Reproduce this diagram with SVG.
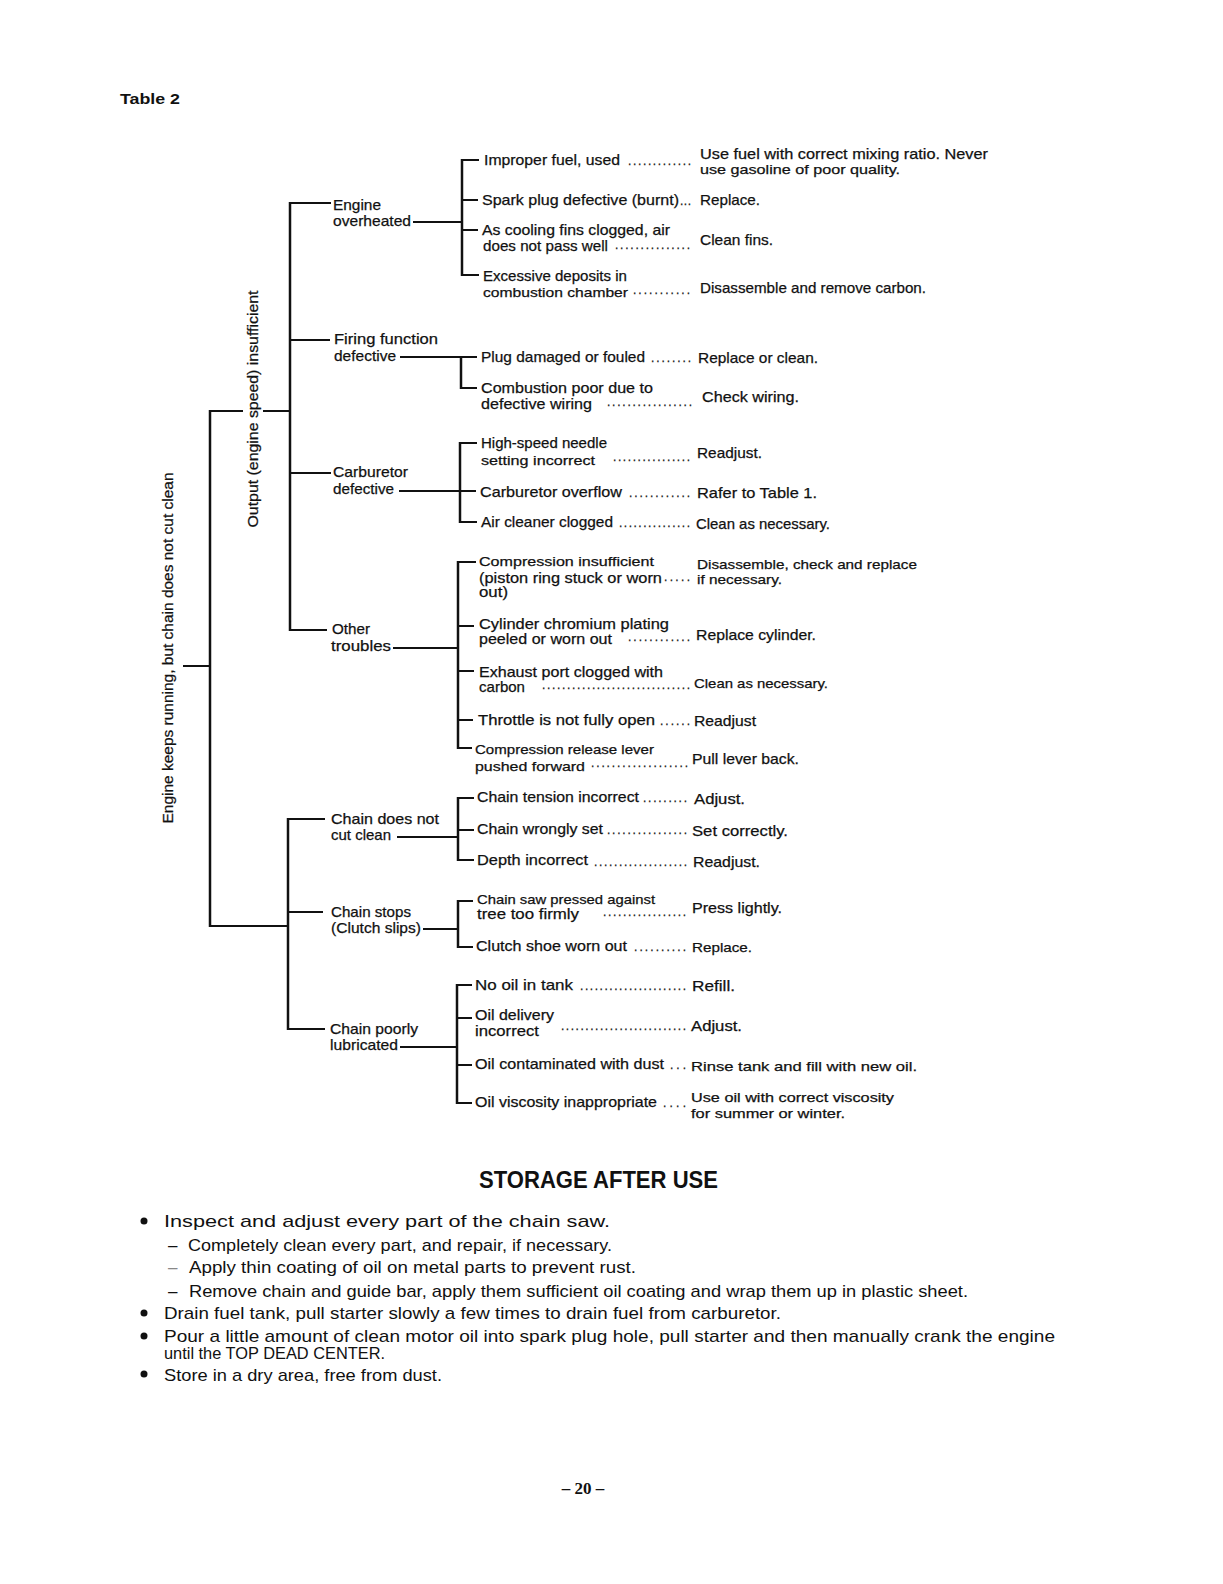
<svg xmlns="http://www.w3.org/2000/svg" width="1223" height="1584" viewBox="0 0 1223 1584">
<style>
text{font-family:"Liberation Sans",Arial,sans-serif;fill:#111;font-size:15px}
.g text{stroke:#111;stroke-width:0.25}
.sm{font-size:13.5px}
.d{font-size:12px;letter-spacing:0}
.b{font-weight:bold}
.h{font-size:23px;font-weight:bold}
.s{font-size:17px}
.pg{font-family:"Liberation Serif","Times New Roman",serif;font-weight:bold;font-size:17px}
#connectors line{stroke:#111;stroke-width:2;fill:none}
#connectors .v{stroke-width:2.5}
</style>
<rect width="1223" height="1584" fill="#fff"/>
<text class="b" x="120" y="104" font-size="16" textLength="60" lengthAdjust="spacingAndGlyphs">Table 2</text>

<g id="connectors">
  <line x1="183" y1="666" x2="210" y2="666"/>
  <line class="v" x1="210" y1="410" x2="210" y2="927"/>
  <line x1="209" y1="411" x2="243" y2="411"/>
  <line x1="263" y1="411" x2="291" y2="411"/>
  <line x1="209" y1="926" x2="288" y2="926"/>
  <line class="v" x1="290" y1="202" x2="290" y2="631"/>
  <line x1="289" y1="203" x2="331" y2="203"/>
  <line x1="289" y1="340" x2="330" y2="340"/>
  <line x1="289" y1="473" x2="331" y2="473"/>
  <line x1="289" y1="630" x2="327" y2="630"/>
  <line class="v" x1="288" y1="818" x2="288" y2="1030"/>
  <line x1="287" y1="819" x2="325" y2="819"/>
  <line x1="287" y1="912" x2="323" y2="912"/>
  <line x1="287" y1="1029" x2="325" y2="1029"/>
  <line x1="413" y1="222" x2="462" y2="222"/>
  <line class="v" x1="462" y1="159" x2="462" y2="276"/>
  <line x1="461" y1="160" x2="479" y2="160"/>
  <line x1="461" y1="200" x2="478" y2="200"/>
  <line x1="461" y1="230" x2="478" y2="230"/>
  <line x1="461" y1="275" x2="479" y2="275"/>
  <line x1="400" y1="357" x2="477" y2="357"/>
  <line class="v" x1="461" y1="356" x2="461" y2="389"/>
  <line x1="460" y1="388" x2="477" y2="388"/>
  <line x1="399" y1="491" x2="476" y2="491"/>
  <line class="v" x1="460" y1="442" x2="460" y2="523"/>
  <line x1="459" y1="443" x2="477" y2="443"/>
  <line x1="459" y1="522" x2="477" y2="522"/>
  <line x1="393" y1="648" x2="458" y2="648"/>
  <line class="v" x1="458" y1="561" x2="458" y2="749"/>
  <line x1="457" y1="562" x2="476" y2="562"/>
  <line x1="457" y1="626" x2="474" y2="626"/>
  <line x1="457" y1="671" x2="474" y2="671"/>
  <line x1="457" y1="720" x2="473" y2="720"/>
  <line x1="457" y1="748" x2="472" y2="748"/>
  <line x1="397" y1="837" x2="458" y2="837"/>
  <line class="v" x1="458" y1="797" x2="458" y2="861"/>
  <line x1="457" y1="798" x2="474" y2="798"/>
  <line x1="457" y1="830" x2="474" y2="830"/>
  <line x1="457" y1="860" x2="474" y2="860"/>
  <line x1="423" y1="929" x2="458" y2="929"/>
  <line class="v" x1="458" y1="900" x2="458" y2="948"/>
  <line x1="457" y1="901" x2="473" y2="901"/>
  <line x1="457" y1="947" x2="473" y2="947"/>
  <line x1="400" y1="1047" x2="457" y2="1047"/>
  <line class="v" x1="457" y1="984" x2="457" y2="1104"/>
  <line x1="456" y1="985" x2="472" y2="985"/>
  <line x1="456" y1="1018" x2="472" y2="1018"/>
  <line x1="456" y1="1065" x2="472" y2="1065"/>
  <line x1="456" y1="1103" x2="472" y2="1103"/>
</g>

<g class="g">
<g id="root">
  <text transform="translate(173,648) rotate(-90)" text-anchor="middle" textLength="351" lengthAdjust="spacingAndGlyphs">Engine keeps running, but chain does not cut clean</text>
</g>
<g id="output">
  <text transform="translate(258,409) rotate(-90)" text-anchor="middle" textLength="237" lengthAdjust="spacingAndGlyphs">Output (engine speed) insufficient</text>
</g>

<g id="n-engine-overheated">
  <text x="333" y="210" textLength="48" lengthAdjust="spacingAndGlyphs">Engine</text>
  <text x="333" y="226" textLength="78" lengthAdjust="spacingAndGlyphs">overheated</text>
</g>
<g id="n-firing">
  <text x="334" y="344" textLength="104" lengthAdjust="spacingAndGlyphs">Firing function</text>
  <text x="334" y="361" textLength="62" lengthAdjust="spacingAndGlyphs">defective</text>
</g>
<g id="n-carburetor">
  <text x="333" y="477" textLength="75" lengthAdjust="spacingAndGlyphs">Carburetor</text>
  <text x="333" y="494" textLength="61" lengthAdjust="spacingAndGlyphs">defective</text>
</g>
<g id="n-other">
  <text x="332" y="634" textLength="38" lengthAdjust="spacingAndGlyphs">Other</text>
  <text x="331" y="651" textLength="60" lengthAdjust="spacingAndGlyphs">troubles</text>
</g>
<g id="n-chain-not-cut">
  <text x="331" y="824" textLength="108" lengthAdjust="spacingAndGlyphs">Chain does not</text>
  <text x="331" y="840" textLength="60" lengthAdjust="spacingAndGlyphs">cut clean</text>
</g>
<g id="n-chain-stops">
  <text x="331" y="917" textLength="80" lengthAdjust="spacingAndGlyphs">Chain stops</text>
  <text x="331" y="933" textLength="90" lengthAdjust="spacingAndGlyphs">(Clutch slips)</text>
</g>
<g id="n-chain-poorly">
  <text x="330" y="1034" textLength="88" lengthAdjust="spacingAndGlyphs">Chain poorly</text>
  <text x="330" y="1050" textLength="68" lengthAdjust="spacingAndGlyphs">lubricated</text>
</g>

<g id="c-improper-fuel">
  <text x="484" y="165" textLength="136" lengthAdjust="spacingAndGlyphs">Improper fuel, used</text>
  <text class="d" x="628" y="165" textLength="63" lengthAdjust="spacing">.............</text>
  <text x="700" y="159" textLength="288" lengthAdjust="spacingAndGlyphs">Use fuel with correct mixing ratio. Never</text>
  <text class="sm" x="700" y="174" textLength="200" lengthAdjust="spacingAndGlyphs">use gasoline of poor quality.</text>
</g>
<g id="c-spark-plug">
  <text x="482" y="205" textLength="197" lengthAdjust="spacingAndGlyphs">Spark plug defective (burnt)</text>
  <text class="d" x="680" y="205" textLength="11" lengthAdjust="spacing">...</text>
  <text x="700" y="205" textLength="60" lengthAdjust="spacingAndGlyphs">Replace.</text>
</g>
<g id="c-cooling-fins">
  <text x="482" y="235" textLength="188" lengthAdjust="spacingAndGlyphs">As cooling fins clogged, air</text>
  <text x="483" y="251" textLength="125" lengthAdjust="spacingAndGlyphs">does not pass well</text>
  <text class="d" x="615" y="249" textLength="75" lengthAdjust="spacing">...............</text>
  <text x="700" y="245" textLength="73" lengthAdjust="spacingAndGlyphs">Clean fins.</text>
</g>
<g id="c-deposits">
  <text x="483" y="281" textLength="144" lengthAdjust="spacingAndGlyphs">Excessive deposits in</text>
  <text class="sm" x="483" y="297" textLength="145" lengthAdjust="spacingAndGlyphs">combustion chamber</text>
  <text class="d" x="633" y="294" textLength="57" lengthAdjust="spacing">...........</text>
  <text x="700" y="293" textLength="226" lengthAdjust="spacingAndGlyphs">Disassemble and remove carbon.</text>
</g>

<g id="c-plug-damaged">
  <text x="481" y="362" textLength="164" lengthAdjust="spacingAndGlyphs">Plug damaged or fouled</text>
  <text class="d" x="651" y="362" textLength="40" lengthAdjust="spacing">........</text>
  <text x="698" y="363" textLength="120" lengthAdjust="spacingAndGlyphs">Replace or clean.</text>
</g>
<g id="c-combustion-poor">
  <text x="481" y="393" textLength="172" lengthAdjust="spacingAndGlyphs">Combustion poor due to</text>
  <text x="481" y="409" textLength="111" lengthAdjust="spacingAndGlyphs">defective wiring</text>
  <text class="d" x="607" y="406" textLength="85" lengthAdjust="spacing">.................</text>
  <text x="702" y="402" textLength="97" lengthAdjust="spacingAndGlyphs">Check wiring.</text>
</g>

<g id="c-high-speed">
  <text x="481" y="448" textLength="126" lengthAdjust="spacingAndGlyphs">High-speed needle</text>
  <text class="sm" x="481" y="465" textLength="114" lengthAdjust="spacingAndGlyphs">setting incorrect</text>
  <text class="d" x="613" y="461" textLength="77" lengthAdjust="spacing">................</text>
  <text x="697" y="458" textLength="65" lengthAdjust="spacingAndGlyphs">Readjust.</text>
</g>
<g id="c-carb-overflow">
  <text x="480" y="497" textLength="142" lengthAdjust="spacingAndGlyphs">Carburetor overflow</text>
  <text class="d" x="629" y="497" textLength="61" lengthAdjust="spacing">............</text>
  <text x="697" y="498" textLength="120" lengthAdjust="spacingAndGlyphs">Rafer to Table 1.</text>
</g>
<g id="c-air-cleaner">
  <text x="481" y="527" textLength="132" lengthAdjust="spacingAndGlyphs">Air cleaner clogged</text>
  <text class="d" x="619" y="527" textLength="71" lengthAdjust="spacing">...............</text>
  <text x="696" y="529" textLength="134" lengthAdjust="spacingAndGlyphs">Clean as necessary.</text>
</g>

<g id="c-compression-insufficient">
  <text class="sm" x="479" y="566" textLength="175" lengthAdjust="spacingAndGlyphs">Compression insufficient</text>
  <text x="479" y="583" textLength="183" lengthAdjust="spacingAndGlyphs">(piston ring stuck or worn</text>
  <text x="479" y="597" textLength="29" lengthAdjust="spacingAndGlyphs">out)</text>
  <text class="d" x="664" y="581" textLength="26" lengthAdjust="spacing">.....</text>
  <text class="sm" x="697" y="569" textLength="220" lengthAdjust="spacingAndGlyphs">Disassemble, check and replace</text>
  <text class="sm" x="697" y="584" textLength="85" lengthAdjust="spacingAndGlyphs">if necessary.</text>
</g>
<g id="c-cylinder">
  <text x="479" y="629" textLength="190" lengthAdjust="spacingAndGlyphs">Cylinder chromium plating</text>
  <text x="479" y="644" textLength="133" lengthAdjust="spacingAndGlyphs">peeled or worn out</text>
  <text class="d" x="628" y="641" textLength="62" lengthAdjust="spacing">............</text>
  <text x="696" y="640" textLength="120" lengthAdjust="spacingAndGlyphs">Replace cylinder.</text>
</g>
<g id="c-exhaust">
  <text x="479" y="677" textLength="184" lengthAdjust="spacingAndGlyphs">Exhaust port clogged with</text>
  <text x="479" y="692" textLength="46" lengthAdjust="spacingAndGlyphs">carbon</text>
  <text class="d" x="542" y="689" textLength="148" lengthAdjust="spacing">..............................</text>
  <text class="sm" x="694" y="688" textLength="134" lengthAdjust="spacingAndGlyphs">Clean as necessary.</text>
</g>
<g id="c-throttle">
  <text x="478" y="725" textLength="177" lengthAdjust="spacingAndGlyphs">Throttle is not fully open</text>
  <text class="d" x="660" y="725" textLength="30" lengthAdjust="spacing">......</text>
  <text x="694" y="726" textLength="62" lengthAdjust="spacingAndGlyphs">Readjust</text>
</g>
<g id="c-compression-release">
  <text class="sm" x="475" y="754" textLength="179" lengthAdjust="spacingAndGlyphs">Compression release lever</text>
  <text class="sm" x="475" y="771" textLength="110" lengthAdjust="spacingAndGlyphs">pushed forward</text>
  <text class="d" x="591" y="767" textLength="97" lengthAdjust="spacing">...................</text>
  <text x="692" y="764" textLength="107" lengthAdjust="spacingAndGlyphs">Pull lever back.</text>
</g>

<g id="c-chain-tension">
  <text x="477" y="802" textLength="162" lengthAdjust="spacingAndGlyphs">Chain tension incorrect</text>
  <text class="d" x="643" y="802" textLength="44" lengthAdjust="spacing">.........</text>
  <text x="694" y="804" textLength="51" lengthAdjust="spacingAndGlyphs">Adjust.</text>
</g>
<g id="c-chain-wrongly">
  <text x="477" y="834" textLength="126" lengthAdjust="spacingAndGlyphs">Chain wrongly set</text>
  <text class="d" x="607" y="834" textLength="80" lengthAdjust="spacing">................</text>
  <text x="692" y="836" textLength="96" lengthAdjust="spacingAndGlyphs">Set correctly.</text>
</g>
<g id="c-depth">
  <text x="477" y="865" textLength="111" lengthAdjust="spacingAndGlyphs">Depth incorrect</text>
  <text class="d" x="594" y="866" textLength="93" lengthAdjust="spacing">...................</text>
  <text x="693" y="867" textLength="67" lengthAdjust="spacingAndGlyphs">Readjust.</text>
</g>

<g id="c-pressed">
  <text class="sm" x="477" y="904" textLength="178" lengthAdjust="spacingAndGlyphs">Chain saw pressed against</text>
  <text x="477" y="919" textLength="102" lengthAdjust="spacingAndGlyphs">tree too firmly</text>
  <text class="d" x="603" y="916" textLength="83" lengthAdjust="spacing">.................</text>
  <text x="692" y="913" textLength="90" lengthAdjust="spacingAndGlyphs">Press lightly.</text>
</g>
<g id="c-clutch-shoe">
  <text x="476" y="951" textLength="151" lengthAdjust="spacingAndGlyphs">Clutch shoe worn out</text>
  <text class="d" x="634" y="951" textLength="52" lengthAdjust="spacing">..........</text>
  <text class="sm" x="692" y="952" textLength="60" lengthAdjust="spacingAndGlyphs">Replace.</text>
</g>

<g id="c-no-oil">
  <text x="475" y="990" textLength="98" lengthAdjust="spacingAndGlyphs">No oil in tank</text>
  <text class="d" x="580" y="990" textLength="106" lengthAdjust="spacing">......................</text>
  <text x="692" y="991" textLength="43" lengthAdjust="spacingAndGlyphs">Refill.</text>
</g>
<g id="c-oil-delivery">
  <text x="475" y="1020" textLength="79" lengthAdjust="spacingAndGlyphs">Oil delivery</text>
  <text x="475" y="1036" textLength="64" lengthAdjust="spacingAndGlyphs">incorrect</text>
  <text class="d" x="561" y="1030" textLength="125" lengthAdjust="spacing">..........................</text>
  <text x="691" y="1031" textLength="51" lengthAdjust="spacingAndGlyphs">Adjust.</text>
</g>
<g id="c-oil-contaminated">
  <text x="475" y="1069" textLength="189" lengthAdjust="spacingAndGlyphs">Oil contaminated with dust</text>
  <text class="d" x="670" y="1069" textLength="16" lengthAdjust="spacing">...</text>
  <text class="sm" x="691" y="1071" textLength="226" lengthAdjust="spacingAndGlyphs">Rinse tank and fill with new oil.</text>
</g>
<g id="c-oil-viscosity">
  <text x="475" y="1107" textLength="182" lengthAdjust="spacingAndGlyphs">Oil viscosity inappropriate</text>
  <text class="d" x="663" y="1107" textLength="23" lengthAdjust="spacing">....</text>
  <text class="sm" x="691" y="1102" textLength="203" lengthAdjust="spacingAndGlyphs">Use oil with correct viscosity</text>
  <text class="sm" x="691" y="1118" textLength="154" lengthAdjust="spacingAndGlyphs">for summer or winter.</text>
</g>
</g>

<text class="h" x="479" y="1188" textLength="239" lengthAdjust="spacingAndGlyphs">STORAGE AFTER USE</text>
<g fill="#111">
  <circle cx="144" cy="1221" r="3.5"/>
  <circle cx="144" cy="1313" r="3.5"/>
  <circle cx="144" cy="1336" r="3.5"/>
  <circle cx="144" cy="1374" r="3.5"/>
</g>
<text class="s" x="164" y="1227" textLength="446" lengthAdjust="spacingAndGlyphs">Inspect and adjust every part of the chain saw.</text>
<text class="s" x="168" y="1251">–</text>
<text class="s" x="188" y="1251" textLength="424" lengthAdjust="spacingAndGlyphs">Completely clean every part, and repair, if necessary.</text>
<text class="s" x="168" y="1273" style="fill:#888">–</text>
<text class="s" x="189" y="1273" textLength="447" lengthAdjust="spacingAndGlyphs">Apply thin coating of oil on metal parts to prevent rust.</text>
<text class="s" x="168" y="1297">–</text>
<text class="s" x="189" y="1297" textLength="779" lengthAdjust="spacingAndGlyphs">Remove chain and guide bar, apply them sufficient oil coating and wrap them up in plastic sheet.</text>
<text class="s" x="164" y="1319" textLength="617" lengthAdjust="spacingAndGlyphs">Drain fuel tank, pull starter slowly a few times to drain fuel from carburetor.</text>
<text class="s" x="164" y="1342" textLength="891" lengthAdjust="spacingAndGlyphs">Pour a little amount of clean motor oil into spark plug hole, pull starter and then manually crank the engine</text>
<text class="s" x="164" y="1359" textLength="221" lengthAdjust="spacingAndGlyphs">until the TOP DEAD CENTER.</text>
<text class="s" x="164" y="1381" textLength="278" lengthAdjust="spacingAndGlyphs">Store in a dry area, free from dust.</text>

<text class="pg" x="583" y="1494" text-anchor="middle">– 20 –</text>
</svg>
